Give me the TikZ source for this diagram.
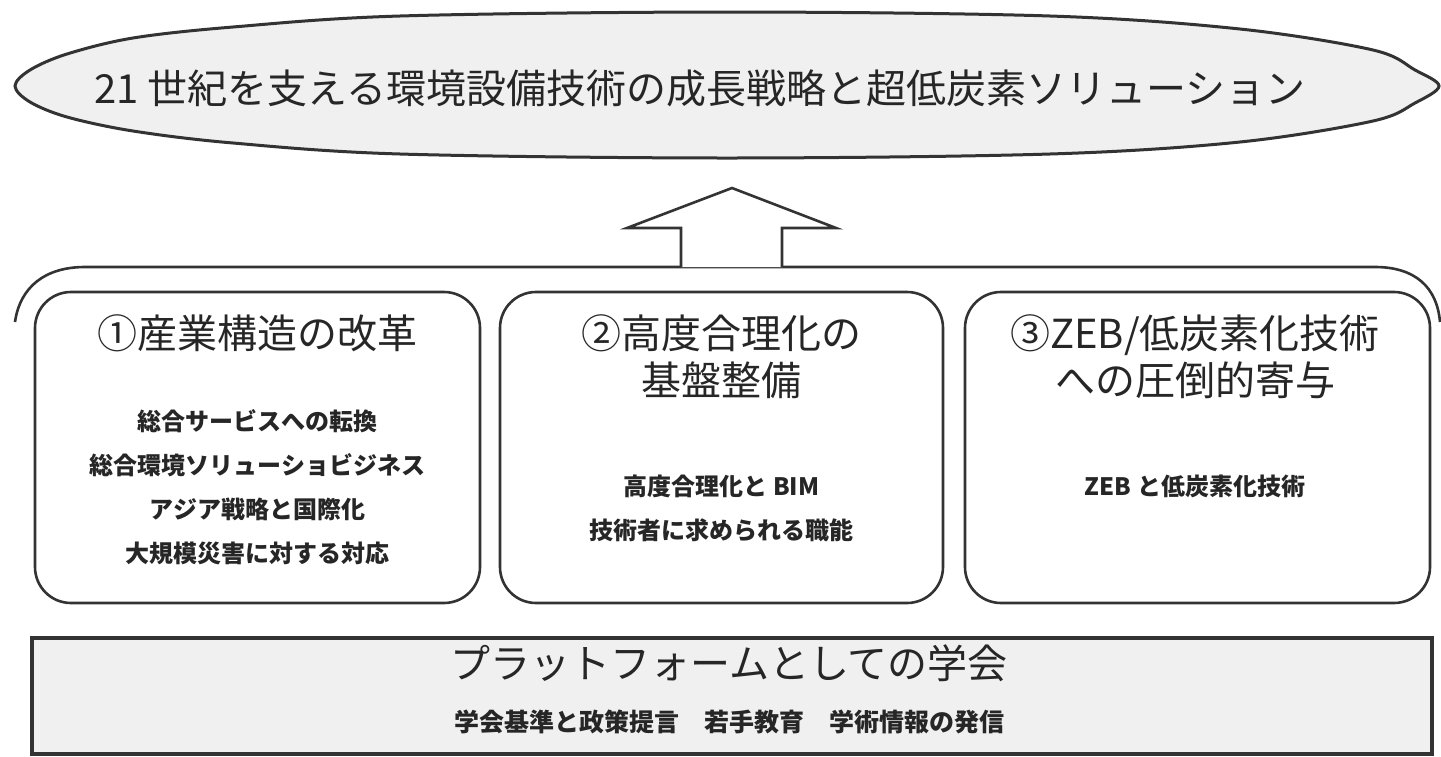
\documentclass[tikz,border=0pt]{standalone}
\usepackage{fontspec}
\newfontfamily\jp{Noto Sans CJK JP}
\begin{document}
\begin{tikzpicture}[x=1pt,y=-1pt,
  outl/.style={draw=black!80, line width=2.6pt},
  rbox/.style={draw=black!80, line width=2.6pt, rounded corners=36pt, fill=white, inner sep=0pt, minimum height=311pt},
  bigtxt/.style={font=\jp\fontsize{40}{47}\selectfont, text=black!85, inner sep=0pt, align=center},
  smalltxt/.style={font=\jp\bfseries\fontsize{24}{44}\selectfont, text=black!85, inner sep=0pt, align=center},
  bottxt/.style={font=\jp\bfseries\fontsize{25}{30}\selectfont, text=black!85, inner sep=0pt, align=center}]
\useasboundingbox (0,0) rectangle (1441,756);
% goal lens
\draw[outl, line width=3pt, fill=black!6] plot[smooth cycle, tension=0.55] coordinates {
 (15,86) (30,70) (67,54) (133,38) (233,27) (400,16) (727,12) (1050,16) (1240,29) (1373,50) (1415,70) (1439,86)
 (1415,103) (1373,121) (1240,142) (1050,154) (727,158) (400,154) (233,143) (133,131) (67,117) (30,102)};
\node[bigtxt] (goal) at (700,88) {21 世紀を支える環境設備技術の成長戦略と超低炭素ソリューション};
% brace line
\coordinate (bl) at (15,322);
\coordinate (br) at (1440,322);
\draw[outl] (bl) .. controls (20,287) and (45,267) .. (85,267) -- (1375,267) .. controls (1415,267) and (1437,287) .. (br);
% arrow
\coordinate (a1) at (681,267);
\coordinate (a7) at (782,267);
\draw[outl, fill=white, line join=miter] (a1) -- (681,228) -- (627,228) -- (732,188) -- (836,228) -- (782,228) -- (a7);
% boxes
\node[rbox, minimum width=445pt] (b1) at (257.5,447.5) {};
\node[rbox, minimum width=443pt] (b2) at (721.5,447.5) {};
\node[rbox, minimum width=465pt] (b3) at (1197.5,447.5) {};
\node[bigtxt] (t1) at (257.5,333) {①産業構造の改革};
\node[smalltxt] (i1) at (257.5,487.5) {総合サービスへの転換\\総合環境ソリューショビジネス\\アジア戦略と国際化\\大規模災害に対する対応};
\node[bigtxt] (t2) at (721.5,356.5) {②高度合理化の\\基盤整備};
\node[smalltxt] (i2) at (721.5,508.5) {高度合理化と BIM\\技術者に求められる職能};
\node[bigtxt] (t3) at (1195,356.5) {③ZEB/低炭素化技術\\への圧倒的寄与};
\node[smalltxt] (i3) at (1195,486) {ZEB と低炭素化技術};
% platform
\node[draw=black!80, line width=3.5pt, fill=black!6, minimum width=1400pt, minimum height=116pt, inner sep=0pt] (pf) at (732,696) {};
\node[bigtxt] (pt) at (729,663) {プラットフォームとしての学会};
\node[bottxt] (pi) at (729,722) {学会基準と政策提言　若手教育　学術情報の発信};
\end{tikzpicture}
\end{document}
